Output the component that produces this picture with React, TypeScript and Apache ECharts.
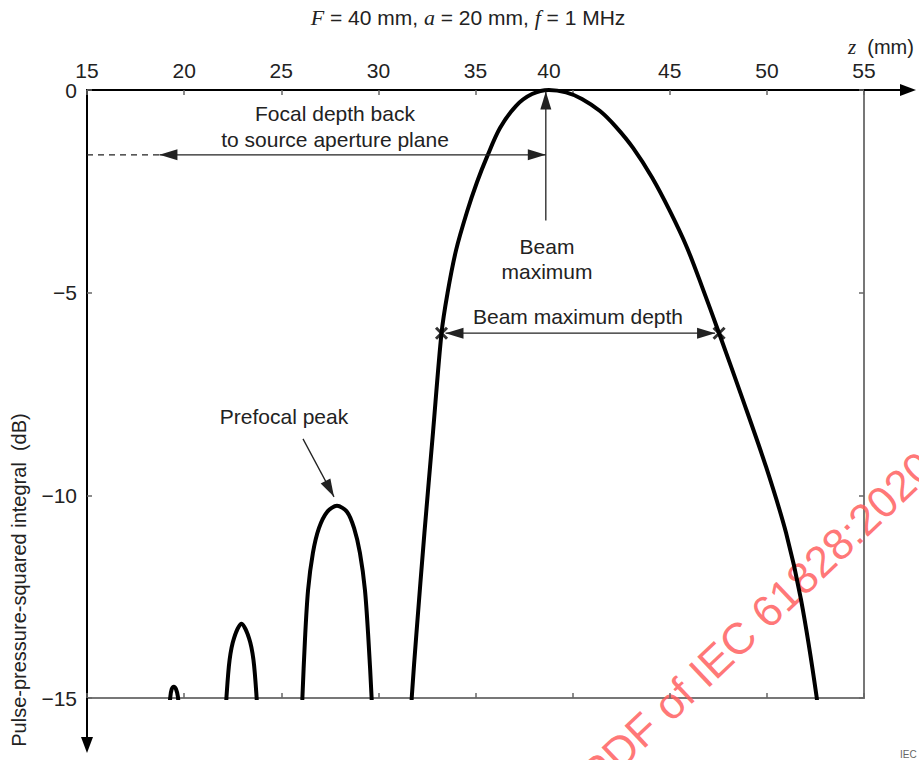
import React, { useEffect, useRef } from "react";
import * as echarts from "echarts";

// ---- Data ----
const xTickValues = [15, 20, 25, 30, 35, 40, 45, 50, 55];
// the "40" label is printed at the beam maximum in the original figure
const xLabelValues = [15, 20, 25, 30, 35, 38.78, 45, 50, 55];
const yTickValues = [0, -5, -10, -15];

// small side lobe near z = 19.5 mm
const lobe3Z = [19.22, 19.29, 19.36, 19.47, 19.58, 19.68, 19.74];
const lobe3DB = [-15.4, -14.97, -14.78, -14.72, -14.78, -14.97, -15.4];

// side lobe near z = 23 mm
const lobe2Z = [22.15, 22.18, 22.34, 22.57, 22.95, 23.34, 23.57, 23.73, 23.76];
const lobe2DB = [-15.4, -14.98, -14.06, -13.52, -13.17, -13.52, -14.06, -14.98, -15.4];

// prefocal peak near z = 27.9 mm
const lobe1Z = [26.06, 26.09, 26.22, 26.38, 26.63, 26.94, 27.36, 27.87, 28.39, 28.75, 29.05, 29.31, 29.49, 29.65, 29.67];
const lobe1DB = [-15.4, -14.98, -13.57, -12.34, -11.42, -10.81, -10.41, -10.26, -10.41, -10.81, -11.42, -12.34, -13.57, -14.98, -15.4];

// main lobe
const mainZ = [
  31.69, 31.72, 31.96, 32.37, 32.81, 33.25, 33.56, 34.0, 34.56, 35.08, 35.59, 36.26, 37.09, 37.91, 38.78,
  39.66, 40.48, 41.41, 42.23, 43.11, 44.09, 45.01, 45.89, 46.66, 47.54, 48.77, 49.96, 50.99, 51.76, 52.56, 52.6,
];
const mainDB = [
  -15.4, -14.97, -13.4, -10.93, -8.46, -6.0, -5.01, -3.95, -3.01, -2.27, -1.65, -0.94, -0.39, -0.1, 0,
  -0.06, -0.22, -0.52, -0.91, -1.43, -2.16, -2.99, -3.89, -4.85, -6.0, -7.65, -9.3, -10.93, -12.58, -14.97, -15.4,
];

// -6 dB points ("beam maximum depth")
const markerZ = [33.25, 47.54];
const markerDB = [-6, -6];

const FONT = "'Liberation Sans', Arial, Helvetica, sans-serif";
const SERIF = "'Liberation Serif', 'Times New Roman', serif";
const INK = "#222";

export default function App() {
  const ref = useRef<HTMLDivElement>(null);

  useEffect(() => {
    const chart = echarts.init(ref.current!, null, { renderer: "svg" });

    const seg = (zs: number[], ds: number[]) => zs.map((z, i) => [z, ds[i]]);
    const gap = [null, null];
    const curve: any[] = [
      ...seg(lobe3Z, lobe3DB),
      gap,
      ...seg(lobe2Z, lobe2DB),
      gap,
      ...seg(lobe1Z, lobe1DB),
      gap,
      ...seg(mainZ, mainDB),
    ];

    const fmtX = (v: number) => String(Math.round(v / 5) * 5);
    const fmtY = (v: number) => (v === 0 ? "0" : "\u2212" + Math.abs(v));

    chart.setOption({
      animation: false,
      backgroundColor: "#fff",
      grid: {
        left: 87,
        top: 90,
        right: 55,
        bottom: 62,
        show: true,
        borderColor: "#777",
        borderWidth: 2,
        backgroundColor: "transparent",
      },
      xAxis: [
        {
          type: "value",
          position: "top",
          min: 15,
          max: 55,
          interval: 5,
          axisLine: { show: true, onZero: false, lineStyle: { color: "#000", width: 2 } },
          axisTick: { show: true, inside: true, length: 5, customValues: xTickValues, lineStyle: { color: "#666", width: 1.5 } },
          axisLabel: { show: true, customValues: xLabelValues, formatter: fmtX, margin: 9, color: INK, fontSize: 21, fontFamily: FONT },
          splitLine: { show: false },
        },
        {
          type: "value",
          position: "bottom",
          min: 15,
          max: 55,
          interval: 5,
          axisLine: { show: false, onZero: false },
          axisTick: { show: true, inside: true, length: 5, lineStyle: { color: "#666", width: 1.5 } },
          axisLabel: { show: false },
          splitLine: { show: false },
        },
      ],
      yAxis: [
        {
          type: "value",
          position: "left",
          min: -15,
          max: 0,
          interval: 5,
          axisLine: { show: true, onZero: false, lineStyle: { color: "#000", width: 2 } },
          axisTick: { show: true, inside: true, length: 5, customValues: yTickValues, lineStyle: { color: "#666", width: 1.5 } },
          axisLabel: { show: true, formatter: fmtY, margin: 10, color: INK, fontSize: 21, fontFamily: FONT },
          splitLine: { show: false },
        },
        {
          type: "value",
          position: "right",
          min: -15,
          max: 0,
          interval: 5,
          axisLine: { show: false, onZero: false },
          axisTick: { show: true, inside: true, length: 5, lineStyle: { color: "#666", width: 1.5 } },
          axisLabel: { show: false },
          splitLine: { show: false },
        },
      ],
      series: [
        {
          type: "line",
          xAxisIndex: 0,
          yAxisIndex: 0,
          data: curve,
          symbol: "none",
          showSymbol: false,
          smooth: 0.3,
          connectNulls: false,
          clip: true,
          lineStyle: { color: "#000", width: 4 },
          z: 3,
          silent: true,
        },
        {
          type: "scatter",
          xAxisIndex: 0,
          yAxisIndex: 0,
          data: markerZ.map((z, i) => [z, markerDB[i]]),
          symbol: "path://M0,0L10,10M10,0L0,10",
          symbolSize: 11,
          itemStyle: { color: "none", borderColor: "#000", borderWidth: 3 },
          z: 4,
          silent: true,
        },
      ],
    });

    const P = (z: number, db: number) => chart.convertToPixel({ seriesIndex: 0 }, [z, db]) as number[];

    const head = (tip: number[], from: number[], len = 18, hw = 5.5) => {
      const dx = tip[0] - from[0];
      const dy = tip[1] - from[1];
      const d = Math.hypot(dx, dy) || 1;
      const ux = dx / d;
      const uy = dy / d;
      const bx = tip[0] - ux * len;
      const by = tip[1] - uy * len;
      return {
        type: "polygon",
        silent: true,
        z: 20,
        shape: { points: [tip, [bx - uy * hw, by + ux * hw], [bx + uy * hw, by - ux * hw]] },
        style: { fill: INK },
      };
    };
    const seg2 = (a: number[], b: number[], extra: any = {}) => ({
      type: "line",
      silent: true,
      z: 20,
      shape: { x1: a[0], y1: a[1], x2: b[0], y2: b[1] },
      style: { stroke: INK, lineWidth: 1.3, ...extra },
    });
    const txt = (x: number, y: number, text: string, size = 21, extra: any = {}) => ({
      type: "text",
      silent: true,
      z: 20,
      x,
      y,
      style: { text, fill: INK, font: `${size}px ${FONT}`, align: "center", verticalAlign: "middle", ...extra },
    });

    // focal depth arrow (at about -1.6 dB)
    const fdLeft = P(18.73, -1.6);
    const fdRight = P(38.62, -1.6);
    const fdStart = P(15, -1.6);
    // beam maximum arrow
    const bmTip = P(38.62, 0);
    const bmTipAdj = [bmTip[0], bmTip[1] + 1.5];
    const bmTail = P(38.62, -3.22);
    // beam maximum depth arrow
    const dL = P(markerZ[0], markerDB[0]);
    const dR = P(markerZ[1], markerDB[1]);
    const dLt = [dL[0] + 4, dL[1]];
    const dRt = [dR[0] - 4, dR[1]];
    // prefocal arrow
    const pfPeak = P(27.87, -10.26);
    const pfTip = [pfPeak[0] - 3, pfPeak[1] - 9];
    const pfTail = [pfTip[0] - 31, pfTip[1] - 58];

    const W = 919;
    const gridRight = P(55, 0)[0];
    const gridBottom = P(15, -15)[1];
    const axTop = P(15, 0);

    const wmAngle = (43.5 * Math.PI) / 180;

    chart.setOption({
      graphic: [
        // watermark (under the curve)
        {
          type: "text",
          silent: true,
          z: 0,
          x: 603,
          y: 797,
          rotation: wmAngle,
          style: {
            text: "PDF of IEC 61828:2020",
            fill: "rgba(255,95,95,0.85)",
            font: `44px ${FONT}`,
            align: "left",
            verticalAlign: "bottom",
          },
        },
        // title
        {
          type: "text",
          silent: true,
          z: 20,
          x: 468,
          y: 17,
          style: {
            text: "{i|F} = 40 mm, {i|a} = 20 mm, {i|f} = 1 MHz",
            fill: INK,
            font: `21px ${FONT}`,
            align: "center",
            verticalAlign: "middle",
            rich: {
              i: { fontFamily: SERIF, fontStyle: "italic", fontSize: 22, fill: INK },
            },
          },
        },
        // axis extension and arrow (top)
        seg2([gridRight, axTop[1]], [W - 14, axTop[1]], { stroke: "#000", lineWidth: 2 }),
        { ...head([W - 3, axTop[1]], [gridRight, axTop[1]], 16, 6), style: { fill: "#000" } },
        // axis extension and arrow (left, downward)
        seg2([axTop[0], gridBottom], [axTop[0], 740], { stroke: "#000", lineWidth: 2 }),
        { ...head([axTop[0], 753], [axTop[0], gridBottom], 16, 6), style: { fill: "#000" } },
        // axis names
        {
          type: "text",
          silent: true,
          z: 20,
          x: 848,
          y: 47,
          style: {
            text: "{i|z}  (mm)",
            fill: INK,
            font: `20px ${FONT}`,
            align: "left",
            verticalAlign: "middle",
            rich: { i: { fontFamily: SERIF, fontStyle: "italic", fontSize: 21, fill: INK } },
          },
        },
        {
          type: "text",
          silent: true,
          z: 20,
          x: 19,
          y: 580,
          rotation: Math.PI / 2,
          style: {
            text: "Pulse-pressure-squared integral  (dB)",
            fill: INK,
            font: `20px ${FONT}`,
            align: "center",
            verticalAlign: "middle",
          },
        },
        // focal depth back annotation
        seg2(fdStart, fdLeft, { lineDash: [6, 5], lineWidth: 1.2 }),
        seg2(fdLeft, fdRight),
        head(fdLeft, fdRight),
        head(fdRight, fdLeft),
        txt(335, 113, "Focal depth back"),
        txt(335, 139, "to source aperture plane"),
        // beam maximum
        seg2(bmTail, bmTipAdj),
        head(bmTipAdj, bmTail),
        txt(547, 246, "Beam"),
        txt(547, 271, "maximum"),
        // beam maximum depth
        seg2(dLt, dRt),
        head(dLt, dRt),
        head(dRt, dLt),
        txt(578, 316, "Beam maximum depth"),
        // prefocal peak
        seg2(pfTail, pfTip),
        head(pfTip, pfTail),
        txt(284, 416, "Prefocal peak"),
        // figure reference (at the page corner)
        {
          type: "text",
          silent: true,
          z: 20,
          x: 900,
          y: 749,
          style: { text: "IEC", fill: "#666", font: `10px ${FONT}`, align: "left", verticalAlign: "top" },
        },
      ],
    });

    return () => chart.dispose();
  }, []);

  return (
    <div
      ref={ref}
      style={{ position: "fixed", left: 0, top: 0, width: 919, height: 760, background: "#fff" }}
    />
  );
}
